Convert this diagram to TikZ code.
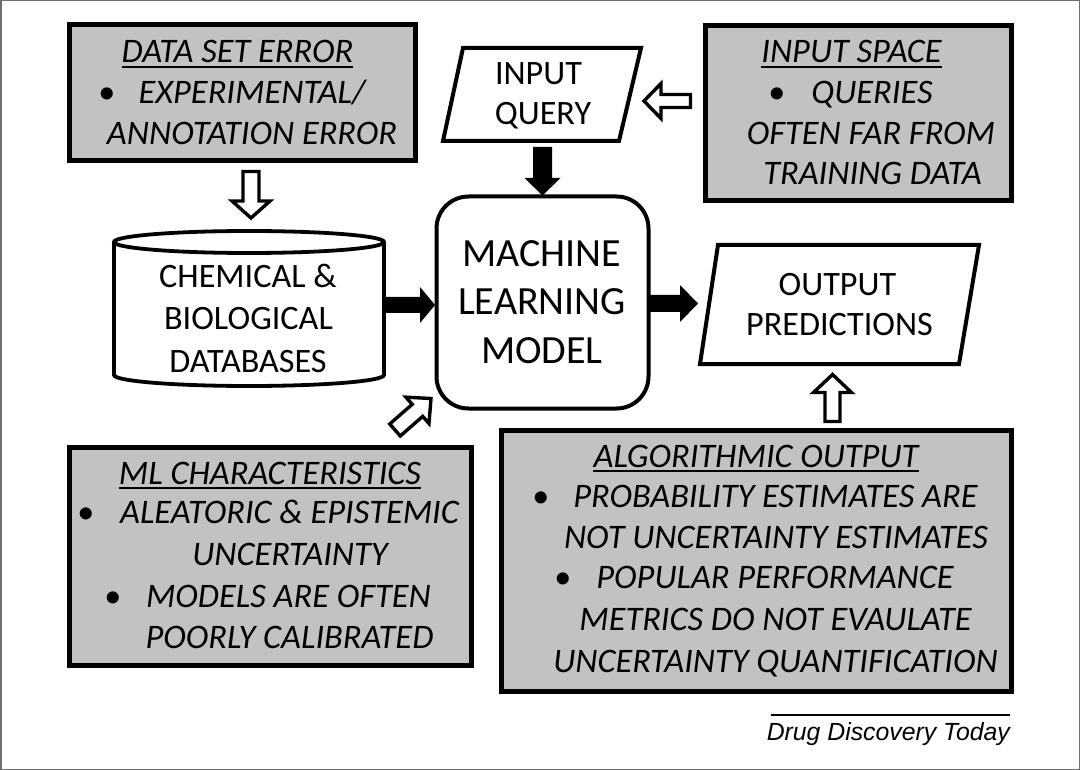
\documentclass[tikz,border=0pt]{standalone}
\usepackage{fontspec}
\setmainfont{Carlito}
\newfontfamily\arialfont{Liberation Sans}
\usetikzlibrary{calc}
\definecolor{boxgray}{RGB}{194,193,195}
\definecolor{framegray}{RGB}{110,110,110}
\newcommand\itb{\itshape\fontsize{34.4}{41}\selectfont}
\newcommand\rgb{\fontsize{34.2}{41}\selectfont}
\newcommand\rgbig{\fontsize{40}{48}\selectfont}
% block arrow: #1 style, #2 tail, #3 tip, #4 shaft half width, #5 head half width, #6 head length
\newcommand\blockarr[6]{%
  \path[#1] ($(#2)!#4!90:(#3)$) -- ($(#3)!#6!(#2)!#4!-90:(#2)$) -- ($(#3)!#6!(#2)!#5!-90:(#2)$) -- (#3)
    -- ($(#3)!#6!(#2)!#5!90:(#2)$) -- ($(#3)!#6!(#2)!#4!90:(#2)$) -- ($(#2)!#4!-90:(#3)$) -- cycle;}
\tikzset{
  graybox/.style={draw=black, fill=boxgray, line width=5pt, inner sep=0pt, rectangle},
  txt/.style={inner sep=0pt, anchor=base},
  uline/.style={line width=1.8pt},
  blackarr/.style={fill=black},
  openarr/.style={draw=black, fill=white, line width=3.4pt, line join=miter},
  shapeline/.style={draw=black, line width=4pt, line join=miter},
}
\begin{document}
\begin{tikzpicture}[x=1pt,y=-1pt]
\useasboundingbox (0,0) rectangle (1080,770);
\draw[framegray, line width=1.5pt] (0.75,0.75) rectangle (1079.25,769.25);

% ---- gray boxes ----
\node[graybox, minimum width=346pt, minimum height=136pt] (dse) at (242,93) {};
\node[graybox, minimum width=306pt, minimum height=175pt] (isp) at (858,113.5) {};
\node[graybox, minimum width=402pt, minimum height=218pt] (mlc) at (270,556) {};
\node[graybox, minimum width=510pt, minimum height=261pt] (alg) at (756,560.5) {};

% ---- ML box ----
\node[draw=black, line width=4pt, rounded corners=32pt, minimum width=212pt, minimum height=212pt, inner sep=0pt] (ml) at (542.5,302.5) {};
\node[txt, font=\rgbig] (ml1) at (541.5,267) {MACHINE};
\node[txt, font=\rgbig] (ml2) at (542,315) {LEARNING};
\node[txt, font=\rgbig] (ml3) at (542,363) {MODEL};

% ---- input query parallelogram ----
\coordinate (iq-tl) at (463,48); \coordinate (iq-tr) at (641,48);
\coordinate (iq-br) at (619,141); \coordinate (iq-bl) at (443,141);
\draw[shapeline, fill=white] (iq-tl) -- (iq-tr) -- (iq-br) -- (iq-bl) -- cycle;
\node[txt, font=\rgb] (iq1) at (538.5,85) {INPUT};
\node[txt, font=\rgb] (iq2) at (543,125) {QUERY};

% ---- output predictions parallelogram ----
\coordinate (op-tl) at (718,245); \coordinate (op-tr) at (979,245);
\coordinate (op-br) at (959,364); \coordinate (op-bl) at (700,364);
\draw[shapeline, fill=white] (op-tl) -- (op-tr) -- (op-br) -- (op-bl) -- cycle;
\node[txt, font=\rgb] (op1) at (837.5,296) {OUTPUT};
\node[txt, font=\rgb] (op2) at (839.5,335) {PREDICTIONS};

% ---- database cylinder ----
\draw[line width=3.8pt, fill=white] (114,242) -- (114,375) arc[start angle=180, end angle=0, x radius=135, y radius=11] -- (384,242);
\draw[line width=3.8pt, fill=white] (249,242) ellipse [x radius=135, y radius=11];
\node[txt, font=\rgb] (db1) at (248,288) {CHEMICAL \&};
\node[txt, font=\rgb] (db2) at (248.5,330) {BIOLOGICAL};
\node[txt, font=\rgb] (db3) at (248,372) {DATABASES};

% ---- texts of gray boxes ----
\node[txt, font=\itb] (dse1) at (237.5,63) {DATA SET ERROR};
\draw[uline] ([yshift=-4pt]dse1.base west) -- ([yshift=-4pt]dse1.base east);
\node[txt, font=\rgb] (dseb) at (107,104) {•};
\node[txt, font=\itb] (dse2) at (252,104) {EXPERIMENTAL/};
\node[txt, font=\itb] (dse3) at (252,145) {ANNOTATION ERROR};

\node[txt, font=\itb] (isp1) at (851.5,63) {INPUT SPACE};
\draw[uline] ([yshift=-4pt]isp1.base west) -- ([yshift=-4pt]isp1.base east);
\node[txt, font=\rgb] (ispb) at (777,104) {•};
\node[txt, font=\itb] (isp2) at (872,104) {QUERIES};
\node[txt, font=\itb] (isp3) at (871,145) {OFTEN FAR FROM};
\node[txt, font=\itb] (isp4) at (872.5,185) {TRAINING DATA};

\node[txt, font=\itb] (mlc1) at (270,484) {ML CHARACTERISTICS};
\draw[uline] ([yshift=-4pt]mlc1.base west) -- ([yshift=-4pt]mlc1.base east);
\node[txt, font=\rgb] (mlcb1) at (86,523) {•};
\node[txt, font=\itb] (mlc2) at (289.5,523) {ALEATORIC \& EPISTEMIC};
\node[txt, font=\itb] (mlc3) at (290,565) {UNCERTAINTY};
\node[txt, font=\rgb] (mlcb2) at (113,607) {•};
\node[txt, font=\itb] (mlc4) at (288.5,607) {MODELS ARE OFTEN};
\node[txt, font=\itb] (mlc5) at (289.5,648) {POORLY CALIBRATED};

\node[txt, font=\itb] (alg1) at (756,467) {ALGORITHMIC OUTPUT};
\draw[uline] ([yshift=-4pt]alg1.base west) -- ([yshift=-4pt]alg1.base east);
\node[txt, font=\rgb] (algb1) at (541,507) {•};
\node[txt, font=\itb] (alg2) at (775.5,507) {PROBABILITY ESTIMATES ARE};
\node[txt, font=\itb] (alg3) at (776,548) {NOT UNCERTAINTY ESTIMATES};
\node[txt, font=\rgb] (algb2) at (563,588) {•};
\node[txt, font=\itb] (alg4) at (775,588) {POPULAR PERFORMANCE};
\node[txt, font=\itb] (alg5) at (775.5,630) {METRICS DO NOT EVAULATE};
\node[txt, font=\itb] (alg6) at (775.5,672) {UNCERTAINTY QUANTIFICATION};

% ---- arrows ----
\coordinate (a1s) at (251,171.5); \coordinate (a1t) at (251,218);
\blockarr{openarr}{a1s}{a1t}{8pt}{19pt}{17pt}
\coordinate (a2s) at (542.5,147); \coordinate (a2t) at (542.5,195.5);
\blockarr{blackarr}{a2s}{a2t}{9.5pt}{18pt}{17.5pt}
\coordinate (a3s) at (690.5,101); \coordinate (a3t) at (644,101);
\blockarr{openarr}{a3s}{a3t}{6.5pt}{17.5pt}{17pt}
\coordinate (a4s) at (385,305); \coordinate (a4t) at (435,305);
\blockarr{blackarr}{a4s}{a4t}{8pt}{18pt}{15pt}
\coordinate (a5s) at (649,303.5); \coordinate (a5t) at (698,303.5);
\blockarr{blackarr}{a5s}{a5t}{8.5pt}{18.5pt}{18pt}
\coordinate (a6s) at (832.5,421.5); \coordinate (a6t) at (832.5,374.5);
\blockarr{openarr}{a6s}{a6t}{7.5pt}{19pt}{18pt}
\coordinate (a7s) at (395,430); \coordinate (a7t) at (431,398.5);
\blockarr{openarr}{a7s}{a7t}{8pt}{17.5pt}{18pt}

% ---- footer ----
\coordinate (fl-a) at (771,715); \coordinate (fl-b) at (1010,715);
\draw[line width=1.2pt] (fl-a) -- (fl-b);
\node[inner sep=0pt, anchor=base east, font=\arialfont\itshape\fontsize{24.8}{30}\selectfont] (ddt) at (1010,740) {Drug Discovery Today};
\end{tikzpicture}
\end{document}
